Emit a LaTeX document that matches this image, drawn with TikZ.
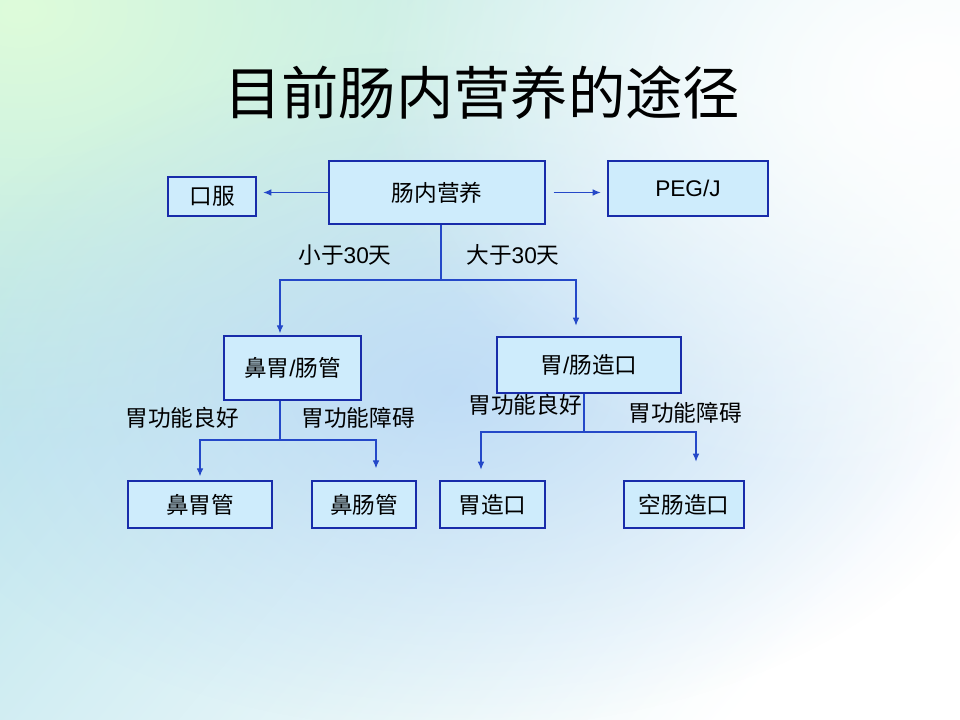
\documentclass[tikz,border=0pt]{standalone}
\usepackage{fontspec}
\setmainfont{Noto Sans CJK SC}
\newfontfamily\latinfont{Liberation Sans}
\usetikzlibrary{arrows.meta,positioning,fadings}

\definecolor{boxfill}{RGB}{206,236,252}
\definecolor{boxline}{RGB}{24,44,170}
\definecolor{arrowblue}{RGB}{36,72,200}
\definecolor{bgleft}{RGB}{186,228,236}
\definecolor{bgmid}{RGB}{192,220,248}
\definecolor{bggreen}{RGB}{222,252,218}
\definecolor{bgblue}{RGB}{180,212,246}
\tikzfading[name=softspot, inner color=transparent!0, outer color=transparent!100]

\begin{document}
\begin{tikzpicture}[x=0.75pt,y=-0.75pt,
  route/.style={draw=boxline, fill=boxfill, line width=1pt, inner sep=0pt,
    font=\fontsize{17}{20}\selectfont},
  lbl/.style={font=\fontsize{17}{20}\selectfont, inner sep=0pt},
  link/.style={draw=arrowblue, line width=0.8pt},
  arr/.style={link, -{Latex[length=6pt,width=5pt]}}]
 % background
 \useasboundingbox (0,0) rectangle (960,720);
 \fill[white] (0,0) rectangle (960,720);
 \shade[top color=bgleft, middle color=bgmid, bottom color=white, shading angle=50]
  (0,0) rectangle (960,720);
 \fill[bggreen, path fading=softspot] (20,10) ellipse (640 and 440);
 \fill[bgblue, opacity=0.7, path fading=softspot] (450,390) ellipse (560 and 340);
 \fill[white, path fading=softspot] (930,80) ellipse (560 and 420);

 % title
 \node (title) at (482,93) {\fontsize{43}{50}\selectfont 目前肠内营养的途径};

 % boxes
 \node[route, minimum width=162pt, minimum height=47.25pt] (cnyy) at (437,192.5) {肠内营养};
 \node[route, minimum width=66pt, minimum height=29.25pt] (kf) at (212,196.5) {口服};
 \node[route, minimum width=120pt, minimum height=41.25pt] (peg) at (688,188.5) {\latinfont PEG/J};
 \node[route, minimum width=102.75pt, minimum height=48pt] (bwcg) at (292.5,368) {鼻胃{\latinfont /}肠管};
 \node[route, minimum width=138pt, minimum height=42pt] (wczk) at (589,365) {胃{\latinfont /}肠造口};
 \node[route, minimum width=108pt, minimum height=35.25pt] (bwg) at (200,504.5) {鼻胃管};
 \node[route, minimum width=78pt, minimum height=35.25pt] (bcg) at (364,504.5) {鼻肠管};
 \node[route, minimum width=78.75pt, minimum height=35.25pt] (wzk) at (492.5,504.5) {胃造口};
 \node[route, minimum width=90pt, minimum height=35.25pt] (kczk) at (684,504.5) {空肠造口};

 % labels
 \node[lbl] (short) at (345,255) {小于{\latinfont 30}天};
 \node[lbl] (long) at (513,255) {大于{\latinfont 30}天};
 \node[lbl] (good1) at (182,418) {胃功能良好};
 \node[lbl] (bad1) at (358,418) {胃功能障碍};
 \node[lbl] (good2) at (525,405) {胃功能良好};
 \node[lbl] (bad2) at (685,413) {胃功能障碍};

 % top arrows
 \draw[arr, shorten >=5pt] (cnyy.west) -- (cnyy.west -| kf.east);
 \draw[arr, shorten <=6pt, shorten >=5pt] (cnyy.east) -- (cnyy.east -| peg.west);

 % split by time
 \coordinate (s1) at (441,280);
 \coordinate (s1l) at (280,280);
 \coordinate (s1r) at (576,280);
 \draw[link] (s1 |- cnyy.south) -- (s1);
 \draw[arr, shorten >=1.5pt] (s1) -- (s1l) -- (s1l |- bwcg.north);
 \draw[arr, shorten >=8pt] (s1) -- (s1r) -- (s1r |- wczk.north);

 % split by stomach function, tube
 \coordinate (s2) at (280,440);
 \coordinate (s2l) at (200,440);
 \coordinate (s2r) at (376,440);
 \draw[link] (s2 |- bwcg.south) -- (s2);
 \draw[arr, shorten >=3pt] (s2) -- (s2l) -- (s2l |- bwg.north);
 \draw[arr, shorten >=9pt] (s2) -- (s2r) -- (s2r |- bcg.north);

 % split by stomach function, stoma
 \coordinate (s3) at (584,432);
 \coordinate (s3l) at (481,432);
 \coordinate (s3r) at (696,432);
 \draw[link] (s3 |- wczk.south) -- (s3);
 \draw[arr, shorten >=8pt] (s3) -- (s3l) -- (s3l |- wzk.north);
 \draw[arr, shorten >=14pt] (s3) -- (s3r) -- (s3r |- kczk.north);
\end{tikzpicture}
\end{document}
